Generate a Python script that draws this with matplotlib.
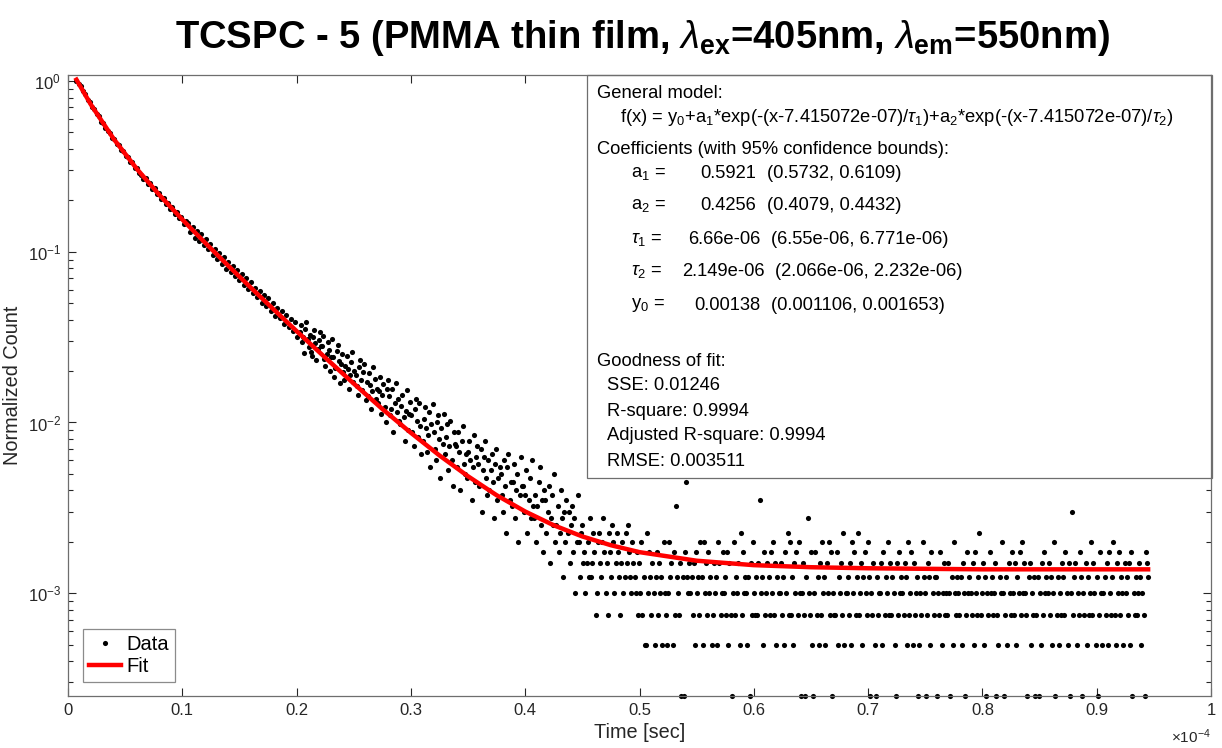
import matplotlib
matplotlib.use("Agg")
import matplotlib.pyplot as plt
import numpy as np
from matplotlib.patches import Rectangle
from matplotlib.ticker import FuncFormatter, LogLocator, NullFormatter, MultipleLocator

W, H = 1222, 748
FONT = "Liberation Sans"

plt.rcParams["font.family"] = [FONT, "DejaVu Sans"]
plt.rcParams["mathtext.fontset"] = "custom"
plt.rcParams["mathtext.rm"] = FONT
plt.rcParams["mathtext.it"] = FONT + ":italic"
plt.rcParams["mathtext.bf"] = FONT + ":bold"
plt.rcParams["axes.unicode_minus"] = False

# TCSPC histogram: 1024 channels over 100 us, shown from the fit offset on
T0 = 7.415072e-07
DT = 1e-4 / 1024
COUNT_UNIT = 2.5e-4  # one photon after normalisation

# channels 0..198, every second channel, normalised
head_norm = [
    1.000, 0.962, 0.931, 0.874, 0.836, 0.771, 0.752, 0.702, 0.688, 0.637,
    0.620, 0.579, 0.570, 0.530, 0.508, 0.497, 0.462, 0.458, 0.428, 0.421,
    0.392, 0.389, 0.362, 0.361, 0.336, 0.334, 0.311, 0.310, 0.289, 0.281,
    0.268, 0.270, 0.249, 0.252, 0.233, 0.236, 0.218, 0.221, 0.203, 0.207,
    0.191, 0.194, 0.178, 0.183, 0.166, 0.171, 0.157, 0.160, 0.146, 0.151,
    0.148, 0.131, 0.139, 0.121, 0.133, 0.115, 0.127, 0.109, 0.119, 0.104,
    0.111, 0.0962, 0.104, 0.0905, 0.0981, 0.0852, 0.0937, 0.0798, 0.0872, 0.0761,
    0.0824, 0.0726, 0.0779, 0.0682, 0.0741, 0.0641, 0.0702, 0.0609, 0.0668, 0.0571,
    0.0612, 0.0544, 0.0589, 0.0502, 0.0557, 0.0481, 0.0537, 0.0452, 0.0498, 0.0423,
    0.0466, 0.0408, 0.0447, 0.0379, 0.0429, 0.0361, 0.0402, 0.0342, 0.0387, 0.0318,
]

# channels 200..449, raw counts
mid_counts = [
    135, 149, 118, 127, 102, 141, 156, 123, 110, 131,
    104, 98, 126, 139, 117, 93, 108, 121, 135, 112,
    112, 129, 94, 86, 101, 118, 107, 80, 97, 124,
    97, 74, 83, 105, 113, 92, 68, 88, 101, 79,
    71, 86, 98, 82, 63, 76, 91, 104, 69, 80,
    76, 65, 58, 84, 93, 71, 62, 79, 88, 54,
    69, 57, 78, 66, 48, 61, 85, 72, 55, 63,
    52, 61, 74, 45, 58, 67, 49, 40, 63, 71,
    57, 44, 48, 63, 35, 52, 68, 46, 55, 41,
    39, 50, 58, 43, 31, 47, 62, 36, 45, 53,
    44, 35, 29, 48, 55, 41, 33, 52, 38, 26,
    31, 42, 49, 37, 27, 34, 46, 22, 39, 51,
    35, 28, 24, 40, 44, 32, 19, 37, 30, 45,
    26, 33, 39, 21, 29, 41, 24, 17, 35, 30,
    29, 22, 35, 27, 16, 31, 38, 23, 20, 26,
    19, 27, 31, 24, 14, 22, 34, 18, 25, 29,
    23, 17, 28, 12, 21, 25, 31, 19, 15, 24,
    16, 21, 26, 18, 11, 23, 28, 14, 19, 22,
    20, 15, 12, 24, 17, 9, 22, 26, 14, 18,
    13, 18, 23, 11, 16, 20, 8, 15, 25, 17,
    17, 12, 15, 21, 9, 14, 19, 11, 24, 13,
    11, 15, 8, 13, 18, 22, 10, 14, 7, 16,
    14, 9, 12, 17, 6, 11, 15, 10, 20, 8,
    10, 13, 7, 9, 16, 11, 5, 12, 8, 14,
    9, 12, 6, 10, 13, 7, 11, 4, 8, 15,
]

# channels 450..960, one base-36 digit (count) per channel
tail_digits = "".join([
    "859a674685", "b569734896", "58b7463975", "a846975368", "4596a75486",
    "5473648352", "2947536425", "7364528432", "4856273d54", "361517i546",
    "4536274538", "5284637452", "3645286347", "4537263148", "3546293745",
    "4251638435", "36e4527346", "5374836254", "4635274938", "3526473841",
    "46315b4372", "1473526384", "5264837143", "3725463924", "4536284735",
    "9346257438", "5143621534", "4627354836", "3542163745", "4365283472",
    "6345124385", "4136527435", "5143724634", "3641528435", "4352641374",
    "5436274359", "3462514374", "5346132548", "4135264374", "3625473846",
    "4315624351", "3514263745", "4635248135", "2436537426", "14c3562437",
    "5143625348", "3642513742", "4536274358", "3264735426", "4536271435",
    "3465243176", "5",
])

# fitted curve read at these times (us)
fit_time_us = [0.74, 2, 4, 6, 8, 10, 12, 14, 16, 18, 20, 22.5, 25, 27.5, 30,
               32.5, 35, 37.5, 40, 42.5, 45, 47.5, 50, 55, 60, 65, 70, 80, 94.5]
fit_norm = [1.019, 0.7285, 0.4578, 0.3071, 0.2150, 0.1546, 0.1128, 0.0831,
            0.0616, 0.0459, 0.0343, 0.0240, 0.0169, 0.0120, 0.00870, 0.00641,
            0.00484, 0.00375, 0.00301, 0.00250, 0.00215, 0.00191, 0.00174,
            0.00155, 0.00146, 0.00142, 0.00140, 0.00138, 0.00138]

head_t = T0 + DT * np.arange(0, 2 * len(head_norm), 2)
rest_counts = mid_counts + [int(c, 36) for c in tail_digits]
rest_t = T0 + DT * (200 + np.arange(len(rest_counts)))
data_t = np.concatenate([head_t, rest_t])
data_y = np.concatenate([head_norm, np.array(rest_counts) * COUNT_UNIT])
fit_t = np.array(fit_time_us) * 1e-6

AX_COL = "#262626"
EDGE = "#6e6e6e"

fig = plt.figure(figsize=(W / 100, H / 100), dpi=100)
ax = fig.add_axes([68 / W, 1 - 696 / H, (1211 - 68) / W, (696 - 75) / H])

ax.plot(data_t, data_y, "o", color="k", ms=3.7, mew=0, clip_on=False,
        label="Data", zorder=2)
ax.plot(fit_t, fit_norm, "-", color="red", lw=3.2, label="Fit", zorder=2.1)

ax.set_yscale("log")
ax.set_xlim(0, 1e-4)
ax.set_ylim(2.5e-4, 1.085)

ax.xaxis.set_major_locator(MultipleLocator(1e-5))
ax.xaxis.set_major_formatter(FuncFormatter(lambda v, p: f"{v * 1e4:g}"))
ax.yaxis.set_major_locator(LogLocator(base=10, numticks=10))
ax.yaxis.set_minor_locator(LogLocator(base=10, subs=np.arange(2, 10), numticks=20))
ax.yaxis.set_minor_formatter(NullFormatter())

ax.tick_params(which="both", direction="in", top=True, right=True,
               colors=AX_COL, labelsize=12, width=0.8)
ax.tick_params(which="major", length=6, pad=5)
ax.tick_params(which="minor", length=3.5)
for sp in ax.spines.values():
    sp.set_color(EDGE)
    sp.set_linewidth(0.9)

ax.set_xlabel("Time [sec]", fontsize=14.3, color=AX_COL, labelpad=4)
ax.set_ylabel("Normalized Count", fontsize=14.3, color=AX_COL, labelpad=4)

fig.text(1211 / W, 1 - 746 / H, r"$\times10^{-4}$", fontsize=11,
         color=AX_COL, va="bottom", ha="right")

leg = ax.legend(loc="lower left", bbox_to_anchor=(0.0131, 0.0225),
                borderaxespad=0, fontsize=14.5, frameon=True,
                fancybox=False, handlelength=1.6, handletextpad=0.25,
                borderpad=0.3, labelspacing=0.15, markerscale=1.0)
leg.get_frame().set_edgecolor(EDGE)
leg.get_frame().set_linewidth(0.9)

fig.text(643 / W, 1 - 48 / H,
         r"TCSPC - 5 (PMMA thin film, $\lambda_{\mathbf{ex}}$=405nm, "
         r"$\lambda_{\mathbf{em}}$=550nm)",
         fontsize=27.5, fontweight="bold", ha="center", va="baseline")

# fit report box
ax.add_patch(Rectangle((587 / W, 1 - 478 / H), 625 / W, 403 / H,
                       transform=fig.transFigure, facecolor="white",
                       edgecolor=EDGE, lw=0.9, clip_on=False, zorder=2.2))

BOX_FS = 13.2


def box_text(x, y, s):
    fig.text(x / W, 1 - y / H, s, fontsize=BOX_FS, ha="left", va="center",
             color="k")


box_text(597, 93, "General model:")
box_text(620, 117, r"f(x) = y$_0$+a$_1$*exp(-(x-7.415072e-07)/$\tau_1$)"
                   r"+a$_2$*exp(-(x-7.415072e-07)/$\tau_2$)")
box_text(597, 150, "Coefficients (with 95% confidence bounds):")

coef_rows = [
    (173, r"a$_1$ =", 700, "0.5921", 767, "(0.5732, 0.6109)"),
    (206, r"a$_2$ =", 700, "0.4256", 767, "(0.4079, 0.4432)"),
    (240, r"$\tau_1$ =", 688, "6.66e-06", 771, "(6.55e-06, 6.771e-06)"),
    (272, r"$\tau_2$ =", 682, "2.149e-06", 775, "(2.066e-06, 2.232e-06)"),
    (305, r"y$_0$ =", 694, "0.00138", 771, "(0.001106, 0.001653)"),
]
for y, name, vx, val, bx, bounds in coef_rows:
    box_text(631, y, name)
    box_text(vx, y, val)
    box_text(bx, y, bounds)

box_text(597, 361, "Goodness of fit:")
box_text(607, 386, "SSE: 0.01246")
box_text(607, 411, "R-square: 0.9994")
box_text(607, 436, "Adjusted R-square: 0.9994")
box_text(607, 461, "RMSE: 0.003511")

fig.savefig("out.png", dpi=100)
